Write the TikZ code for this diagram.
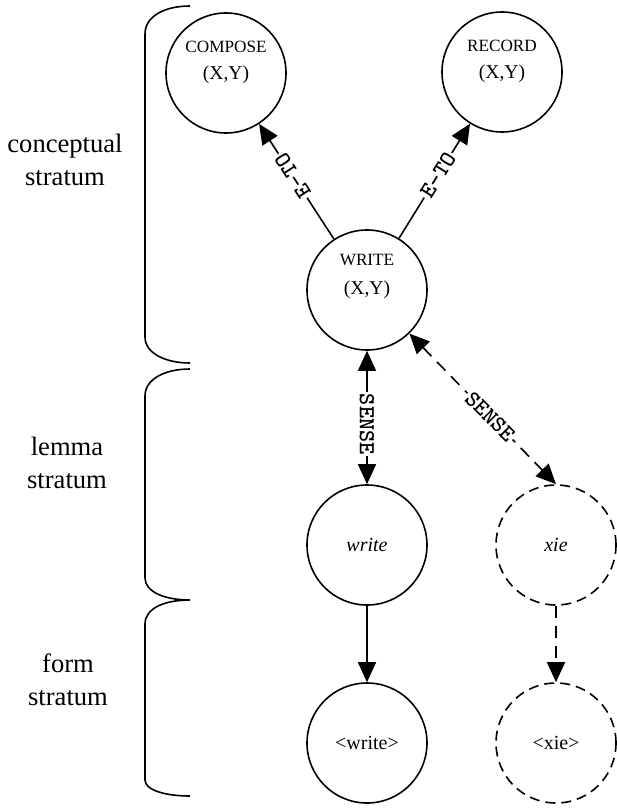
\documentclass[tikz,border=0pt]{standalone}
\usepackage{fontspec}
\setmainfont{Liberation Serif}
\usetikzlibrary{arrows.meta}

\tikzset{
    concept/.style={draw, circle, line width=0.8pt, minimum size=60pt, inner sep=0pt,
        font=\fontsize{10}{12}\selectfont},
    tentative/.style={concept, dash pattern=on 5pt off 3pt},
    capname/.style={inner sep=0pt, font=\fontsize{8.6}{10}\selectfont},
    argname/.style={inner sep=0pt, font=\fontsize{9.8}{12}\selectfont},
    link/.style={line width=0.8pt, -{Triangle[length=10pt,width=9pt]}},
    duallink/.style={line width=0.8pt, {Triangle[length=10pt,width=9pt]}-{Triangle[length=10pt,width=9pt]}},
    rellabel/.style={font=\ttfamily\bfseries\fontsize{11.5}{13}\selectfont, fill=white, inner sep=1pt, pos=0.55},
    stratum/.style={line width=0.8pt},
    stratumtext/.style={align=center, font=\fontsize{13.3}{16.5}\selectfont}
}

\begin{document}
\begin{tikzpicture}[x=0.5pt, y=-0.5pt]
    \useasboundingbox (0,0) rectangle (616,808);

    % Strata brackets
    \draw[stratum] (190,6) .. controls (165,6) and (145,16) .. (145,34)
        -- (145,337) .. controls (145,353) and (165,363) .. (190,363);
    \draw[stratum] (190,369) .. controls (165,369) and (145,379) .. (145,396)
        -- (145,578) .. controls (145,592) and (165,600) .. (190,600);
    \draw[stratum] (190,600) .. controls (165,600) and (145,608) .. (145,624)
        -- (145,780) .. controls (145,790) and (165,796) .. (190,796);

    % Strata names
    \node[stratumtext] (conceptual) at (65,160) {conceptual\\stratum};
    \node[stratumtext] (lemma) at (67,463) {lemma\\stratum};
    \node[stratumtext] (form) at (68,680) {form\\stratum};

    % Conceptual nodes
    \node[concept] (compose) at (226,73) {};
    \node[capname] (compose-name) at ([yshift=13pt]compose.center) {COMPOSE};
    \node[argname] (compose-args) at ([yshift=-1pt]compose.center) {(X,Y)};

    \node[concept] (record) at (502,72) {};
    \node[capname] (record-name) at ([yshift=13pt]record.center) {RECORD};
    \node[argname] (record-args) at ([yshift=-1pt]record.center) {(X,Y)};

    \node[concept] (writeconcept) at (367,290) {};
    \node[capname] (writeconcept-name) at ([yshift=15pt]writeconcept.center) {WRITE};
    \node[argname] (writeconcept-args) at (writeconcept.center) {(X,Y)};

    % Lemma and form nodes
    \node[concept] (writelemma) at (367,545) {\textit{write}};
    \node[tentative] (xielemma) at (556,545) {\textit{xie}};
    \node[concept] (writeform) at (367,743) {<write>};
    \node[tentative] (xieform) at (556,743) {<xie>};

    % Links
    \draw[link] (writeconcept) -- node[rellabel, rotate=123] (composelink) {E-TO} (compose);
    \draw[link] (writeconcept) -- node[rellabel, rotate=58] (recordlink) {E-TO} (record);
    \draw[duallink] (writeconcept) -- node[rellabel, rotate=-90] (senselink) {SENSE} (writelemma);
    \draw[duallink, dash pattern=on 6pt off 4pt] (writeconcept) -- node[rellabel, rotate=-45] (xielink) {SENSE} (xielemma.north);
    \draw[link] (writelemma) -- (writeform);
    \draw[link, dash pattern=on 6pt off 4pt] (xielemma) -- (xieform);
\end{tikzpicture}
\end{document}
